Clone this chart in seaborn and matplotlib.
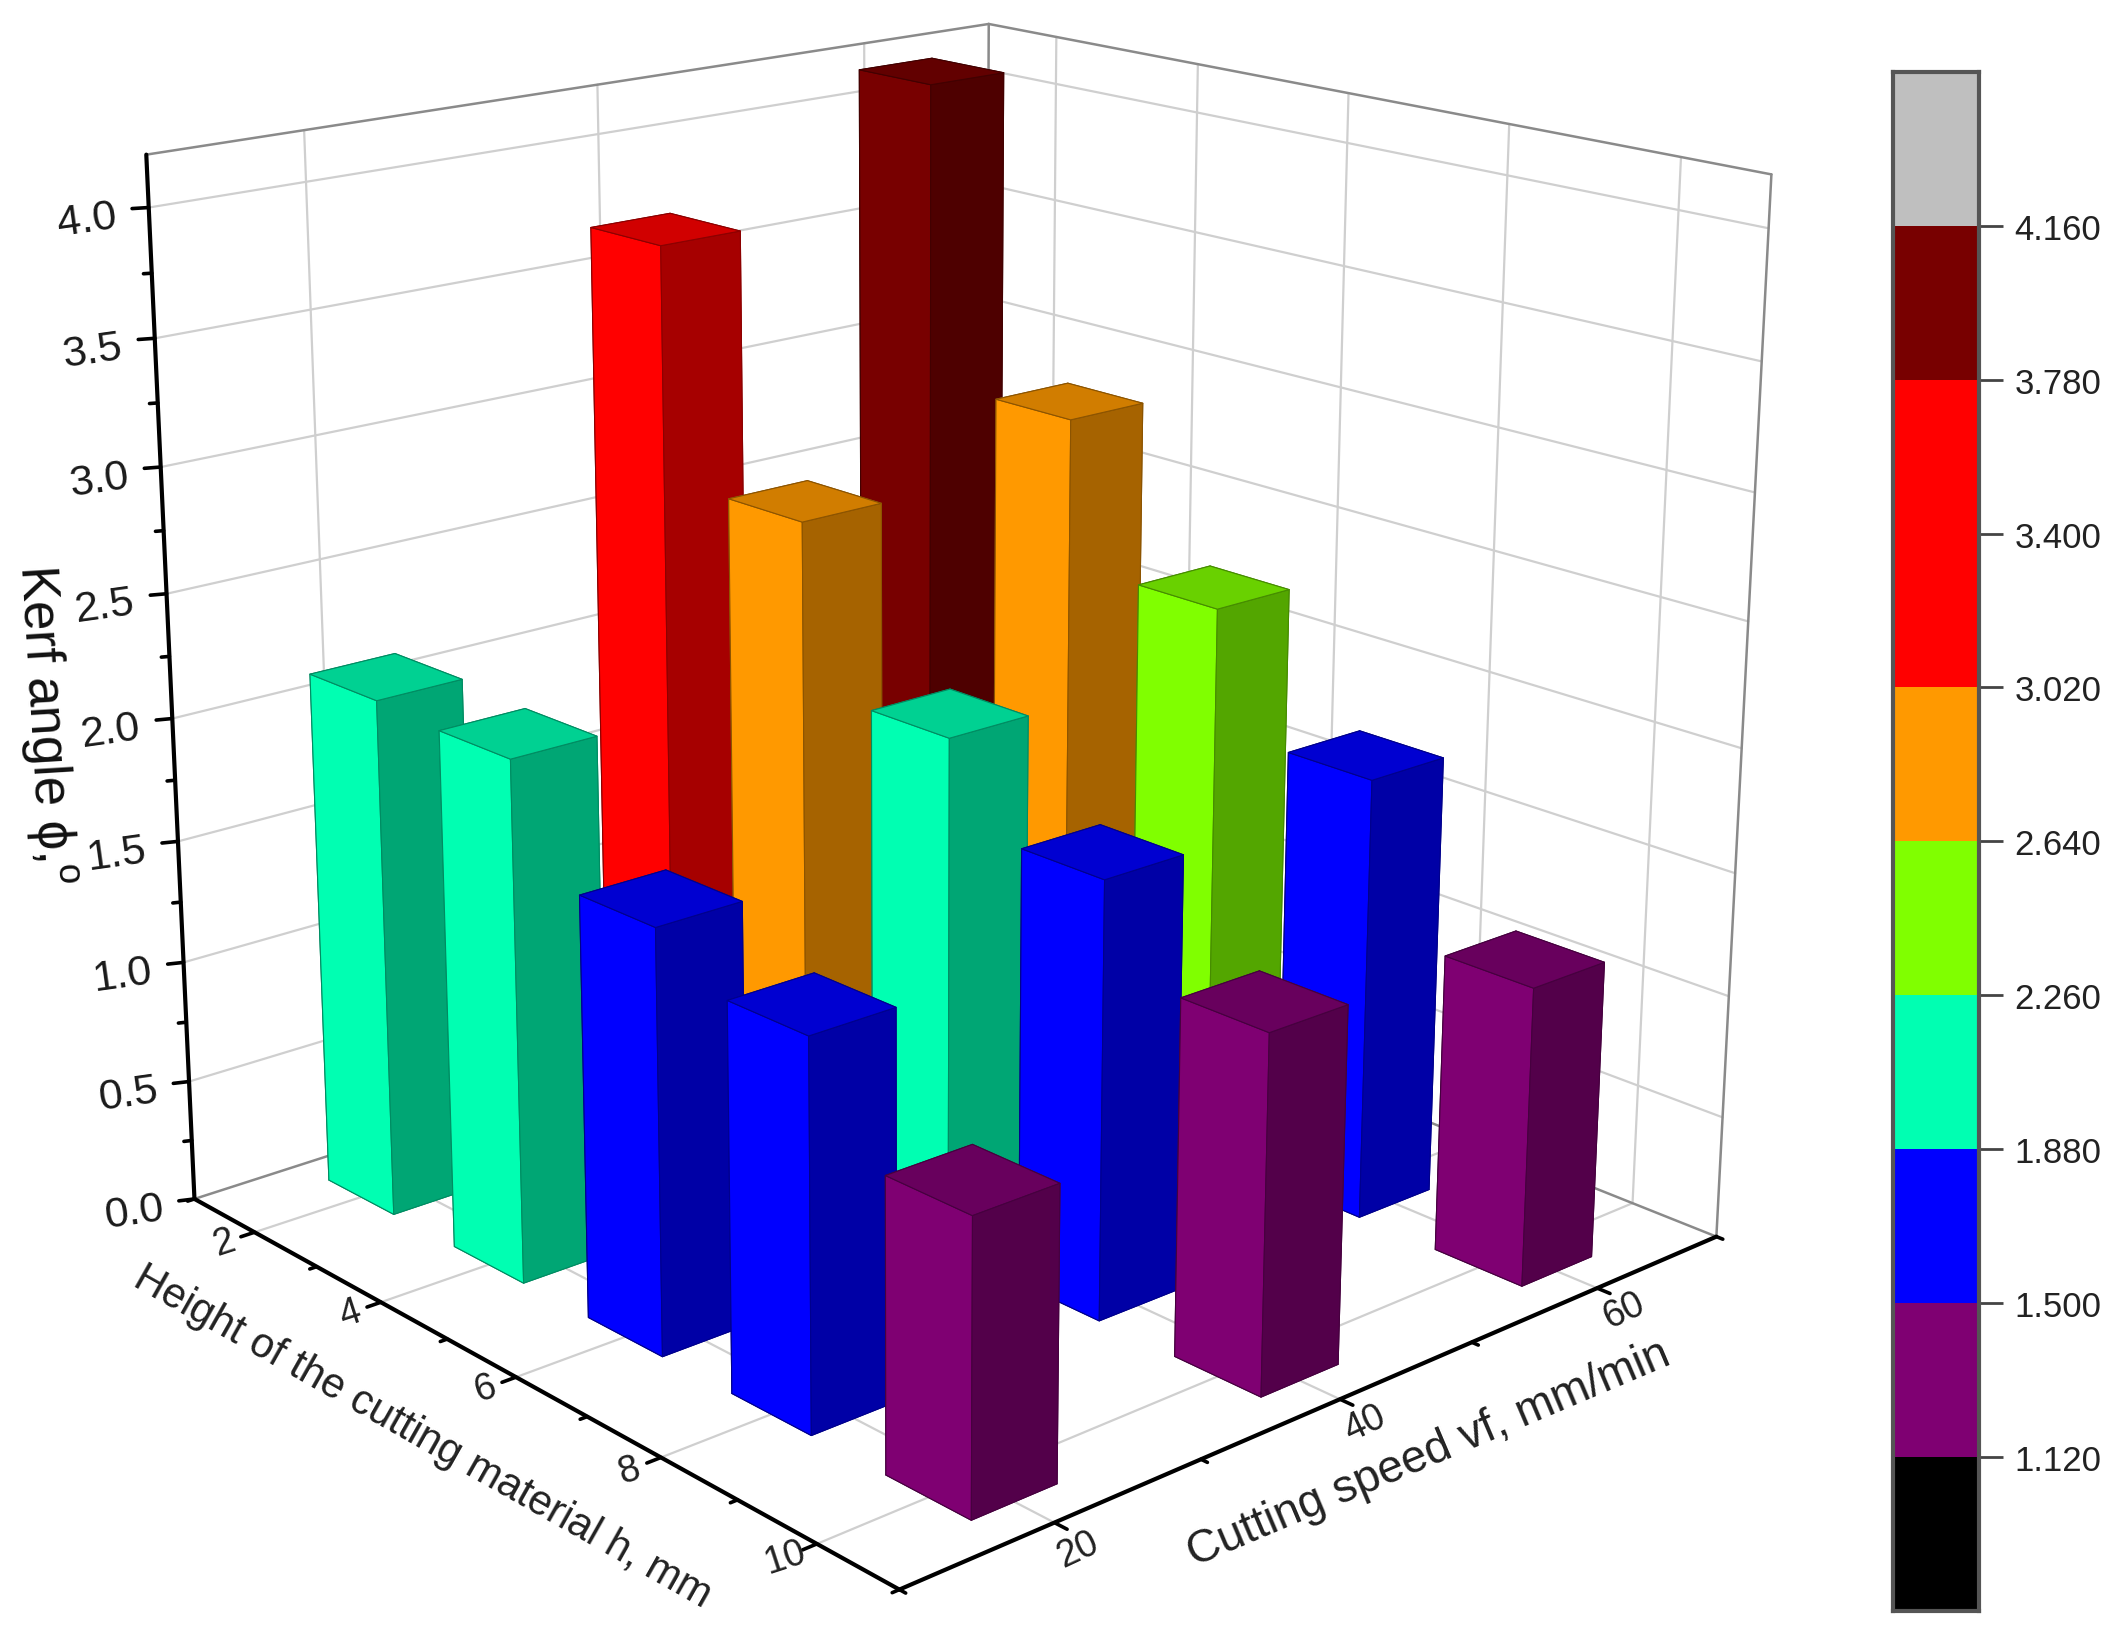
import numpy as np
import matplotlib
matplotlib.use("Agg")
import matplotlib.pyplot as plt
import seaborn as sns
from matplotlib.colors import ListedColormap, to_rgb
from mpl_toolkits.mplot3d import proj3d

HEIGHTS = [2, 4, 6, 8, 10]
SPEEDS = [20, 40, 60]
KERF_SPEED_20 = [2.12, 2.10, 1.68, 1.52, 1.13]
KERF_SPEED_40 = [3.68, 2.74, 2.08, 1.75, 1.41]
KERF_SPEED_60 = [4.14, 2.90, 2.30, 1.81, 1.21]

Z_TICKS = [0.0, 0.5, 1.0, 1.5, 2.0, 2.5, 3.0, 3.5, 4.0]
LEVELS = [1.12, 1.50, 1.88, 2.26, 2.64, 3.02, 3.40, 3.78, 4.16]
LEVEL_COLORS = ["#000000", "#7f0072", "#0000ff", "#00ffb2", "#80ff00",
                "#ff9900", "#ff0000", "#ff0000", "#780000", "#bfbfbf"]

W, H = 2122, 1640
XLIM, YLIM, ZMAX = (1, 11), (10, 70), 4.2

# box corners and ticks as seen in the picture (x, y, z -> px, py), used to fit the camera
CAMERA_POINTS = [
    (1, 10, 0, 145, 888), (11, 10, 0, 665, 1175), (11, 70, 0, 1268, 917),
    (1, 10, 4.2, 108, 113), (1, 70, 4.2, 730, 18), (11, 70, 4.2, 1310, 130),
    (1, 10, 4.0, 110, 155), (10, 70, 0, 1206, 885), (1, 20, 4.2, 225, 98),
    (2, 70, 4.2, 781, 28), (10, 70, 4.2, 1241, 117), (2, 10, 0, 187, 911),
    (10, 10, 0, 601, 1140), (11, 20, 0, 780, 1126), (11, 40, 0, 992, 1035),
    (11, 60, 0, 1180, 955),
]

sns.set_theme(style="white")
plt.rcParams["font.family"] = ["Liberation Sans", "DejaVu Sans"]
plt.rcParams["mathtext.default"] = "regular"


def fit_camera(ax):
    rows = []
    scale = W / 1568 / 1000
    for x, y, z, px, py in CAMERA_POINTS:
        X = [(x - 1) / 10, (y - 10) / 60, z / ZMAX, 1]
        u, v = px * scale, py * scale
        rows.append(X + [0, 0, 0, 0] + [-u * c for c in X])
        rows.append([0, 0, 0, 0] + X + [-v * c for c in X])
    P = np.linalg.svd(np.array(rows))[2][-1].reshape(3, 4)
    norm = np.array([[0.1, 0, 0, -0.1], [0, 1 / 60, 0, -1 / 6],
                     [0, 0, 1 / ZMAX, 0], [0, 0, 0, 1]])
    flip = np.array([[1000, 0, 0], [0, -1000, H], [0, 0, 1.0]])
    ax.apply_aspect()
    P = ax.transData.inverted().get_matrix() @ flip @ P @ norm
    P = P / (P[2] @ np.array([6, 40, 2, 1]))
    return np.vstack([P[0], P[1], [0, 0, 0, -1], P[2]])


def tick_label(x, y, z, s, **kw):
    u, v, _ = proj3d.proj_transform(x, y, z, M)
    ax.text2D(u, v, s, zorder=60, **kw)


fig = plt.figure(figsize=(W / 100, H / 100), dpi=100, facecolor="white")
ax = fig.add_axes([0, (H - W) / 2 / H, 1, W / H], projection="3d", computed_zorder=False)
ax.set_axis_off()
ax.patch.set_alpha(0)
M = fit_camera(ax)
ax.get_proj = lambda: M

GRID = dict(color="#cfcfcf", lw=1.6, zorder=1)
EDGE = dict(color="#8a8a8a", lw=1.8, zorder=2)
AXIS = dict(color="black", lw=3, zorder=3)

# grid on the floor and the two walls
for x in HEIGHTS:
    ax.plot([x, x], YLIM, [0, 0], **GRID)
    ax.plot([x, x], [70, 70], [0, ZMAX], **GRID)
for y in SPEEDS:
    ax.plot(XLIM, [y, y], [0, 0], **GRID)
    ax.plot([1, 1], [y, y], [0, ZMAX], **GRID)
for z in Z_TICKS[1:]:
    ax.plot([1, 1], YLIM, [z, z], **GRID)
    ax.plot(XLIM, [70, 70], [z, z], **GRID)

# box outline
ax.plot([1, 1], YLIM, [ZMAX, ZMAX], **EDGE)
ax.plot(XLIM, [70, 70], [ZMAX, ZMAX], **EDGE)
ax.plot([1, 1], YLIM, [0, 0], **EDGE)
ax.plot(XLIM, [70, 70], [0, 0], **EDGE)
ax.plot([1, 1], [70, 70], [0, ZMAX], **EDGE)
ax.plot([11, 11], [70, 70], [0, ZMAX], **EDGE)

# bars, back to front
bar_w, bar_d = 1.05, 5.7
order = 10
for speed, values in reversed(list(zip(SPEEDS, [KERF_SPEED_20, KERF_SPEED_40, KERF_SPEED_60]))):
    for height, value in zip(HEIGHTS, values):
        base = np.array(to_rgb(LEVEL_COLORS[np.digitize(value, LEVELS)]))
        top, side = base * 0.82, base * 0.65
        # bottom, top, -y, +y, -x, +x
        faces = [side, top, base, side, side, side]
        ax.bar3d(height - bar_w / 2, speed - bar_d / 2, 0, bar_w, bar_d, value,
                 color=faces, shade=False, edgecolor=tuple(base * 0.55), linewidth=0.8,
                 zorder=order)
        order += 1

# axes lines and ticks on top of the floor
ax.plot([1, 1], [10, 10], [0, ZMAX], **AXIS)
ax.plot(XLIM, [10, 10], [0, 0], **AXIS)
ax.plot([11, 11], YLIM, [0, 0], **AXIS)

TICK = dict(color="black", lw=2.6, zorder=3)
for z in np.arange(0, 4.1, 0.25):
    k = 1.0 if round(z * 2) == z * 2 else 0.5
    ax.plot([1, 1 - 0.06 * k], [10, 10 - 0.8 * k], [z, z], **TICK)
for z in Z_TICKS:
    tick_label(0.89, 8.55, z - 0.04, f"{z:.1f}", fontsize=31, color="#1a1a1a", rotation=8,
               ha="right", va="center")

for x in np.arange(1, 11.1, 1):
    k = 1.0 if x % 2 == 0 else 0.5
    ax.plot([x, x], [10, 10 - 0.9 * k], [0, 0], **TICK)
for x in HEIGHTS:
    tick_label(x, 8.0, 0, str(x), fontsize=27, color="#222222", rotation=18,
               ha="center", va="center")

for y in np.arange(10, 70.1, 10):
    k = 1.0 if y % 20 == 0 else 0.5
    ax.plot([11, 11 + 0.15 * k], [y, y], [0, 0], **TICK)
for y in SPEEDS:
    tick_label(11.45, y - 1.0, 0, str(y), fontsize=27, color="#222222", rotation=25,
               ha="center", va="center")

fig.text(312 / 1568, 1 - 1062 / 1212, "Height of the cutting material h, mm",
         fontsize=30, color="#222222", rotation=-29.5, ha="center", va="center")
fig.text(1056 / 1568, 1 - 1075 / 1212, "Cutting speed vf, mm/min",
         fontsize=33, color="#222222", rotation=23, ha="center", va="center")
fig.text(33 / 1568, 1 - 535 / 1212, "Kerf angle ϕ,$^{o}$",
         fontsize=38, color="#111111", rotation=-86.5, ha="center", va="center")

# colour scale, top row first
cax = fig.add_axes([1399 / 1568, 1 - 1191 / 1212, 63 / 1568, 1137 / 1212])
rows = np.arange(len(LEVEL_COLORS))[::-1].reshape(-1, 1)
sns.heatmap(rows, cmap=ListedColormap(LEVEL_COLORS), cbar=False, ax=cax,
            xticklabels=False, yticklabels=False)
cax.yaxis.tick_right()
cax.set_yticks(np.arange(1, len(LEVELS) + 1))
cax.set_yticklabels([f"{v:.3f}" for v in LEVELS[::-1]], fontsize=25, color="#222222", rotation=0)
cax.tick_params(axis="y", right=True, length=17, width=2, color="#444444", pad=9)
for s in cax.spines.values():
    s.set_visible(True)
    s.set_color("#555555")
    s.set_linewidth(3)

fig.savefig("out.png", dpi=100)
